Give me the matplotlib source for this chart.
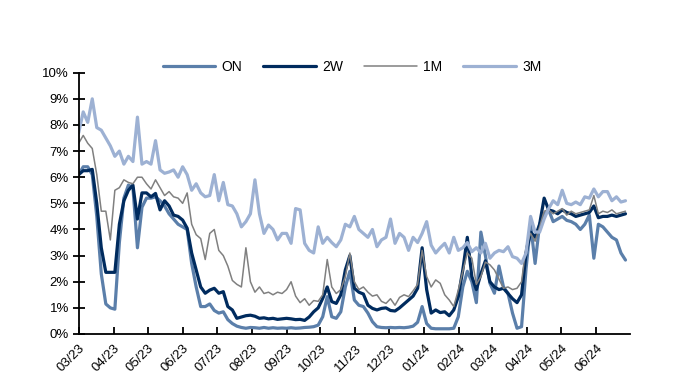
import matplotlib
matplotlib.use("Agg")
import matplotlib.pyplot as plt
import matplotlib.dates as mdates
import pandas as pd

plt.rcParams['font.family'] = ['Liberation Sans', 'DejaVu Sans']

# dates every 4 days from 2023-03-01
dates = pd.date_range('2023-03-01', periods=122, freq='4D')

on_rate = [6.1, 6.4, 6.4, 6.1, 4.5, 2.3, 1.15, 1.0, 0.95, 3.5,
           5.2, 5.7, 5.6, 3.3, 4.85, 5.2, 5.2, 5.25, 5.1, 4.9,
           4.6, 4.4, 4.2, 4.1, 4.0, 2.7, 1.8, 1.05, 1.05, 1.15,
           0.9, 0.8, 0.85, 0.55, 0.4, 0.3, 0.25, 0.22, 0.25, 0.24,
           0.22, 0.25, 0.22, 0.24, 0.22, 0.23, 0.22, 0.24, 0.22, 0.23,
           0.25, 0.26, 0.28, 0.34, 0.66, 1.43, 0.66, 0.6, 0.85, 1.8,
           2.4, 1.3, 1.1, 1.05, 0.8, 0.47, 0.28, 0.25, 0.24, 0.25,
           0.24, 0.25, 0.24, 0.26, 0.3, 0.45, 1.05, 0.4, 0.22, 0.2,
           0.2, 0.2, 0.2, 0.22, 0.66, 1.8, 2.4, 2.0, 1.2, 3.9,
           3.0, 1.94, 1.56, 2.6, 1.8, 1.56, 0.8, 0.22, 0.28, 2.5,
           4.2, 2.7, 4.2, 4.6, 4.75, 4.3, 4.4, 4.5, 4.35, 4.3,
           4.2, 4.0, 4.2, 4.55, 2.9, 4.2, 4.1, 3.9, 3.7, 3.6,
           3.1, 2.83]

w2_rate = [6.1, 6.25, 6.25, 6.3, 5.0, 3.3, 2.36, 2.36, 2.36, 4.2,
           5.1, 5.5, 5.7, 4.4, 5.4, 5.4, 5.25, 5.38, 4.75, 5.1,
           4.9, 4.55, 4.5, 4.36, 4.05, 3.1, 2.45, 1.8, 1.56, 1.68,
           1.75, 1.56, 1.62, 1.05, 0.92, 0.6, 0.65, 0.7, 0.72, 0.68,
           0.6, 0.62, 0.58, 0.6, 0.56, 0.58, 0.6, 0.58, 0.55, 0.56,
           0.52, 0.65, 0.85, 1.0, 1.36, 1.8, 1.24, 1.17, 1.5, 2.45,
           3.0, 1.75, 1.6, 1.53, 1.1, 0.98, 0.92, 0.98, 1.0, 0.9,
           0.88, 1.0, 1.15, 1.3, 1.45, 1.75, 3.3, 1.7, 0.8, 0.92,
           0.82, 0.85, 0.7, 0.92, 1.43, 2.45, 3.7, 2.2, 1.7, 2.3,
           2.8, 2.0, 1.8, 1.7, 1.75, 1.55, 1.35, 1.2, 1.5, 3.1,
           3.9, 3.7, 4.2, 5.2, 4.75, 4.7, 4.6, 4.75, 4.65, 4.6,
           4.5, 4.55, 4.6, 4.65, 4.9, 4.45, 4.5, 4.5, 4.55, 4.5,
           4.55, 4.6]

m1_rate = [7.3, 7.6, 7.3, 7.1, 6.1, 4.7, 4.7, 3.6, 5.5, 5.6,
           5.9, 5.8, 5.75, 6.0, 6.0, 5.75, 5.55, 5.9, 5.6, 5.3,
           5.45, 5.25, 5.2, 5.0, 5.4, 4.2, 3.8, 3.65, 2.85, 3.85,
           4.0, 3.2, 3.0, 2.6, 2.05, 1.9, 1.8, 3.3, 2.0, 1.6,
           1.8, 1.55, 1.6, 1.5, 1.6, 1.55, 1.7, 2.0, 1.45, 1.2,
           1.35, 1.1, 1.28, 1.25, 1.5, 2.85, 1.8, 1.55, 1.7, 2.2,
           3.1, 2.0, 1.7, 1.8, 1.6, 1.45, 1.5, 1.25, 1.17, 1.35,
           1.1, 1.4, 1.5, 1.43, 1.65, 1.9, 3.2, 2.2, 1.8, 2.07,
           1.94, 1.5, 1.3, 1.05, 1.68, 2.4, 3.1, 2.9, 1.9, 2.2,
           2.75, 2.65, 2.45, 2.1, 1.75, 1.8, 1.7, 1.75, 2.0, 3.35,
           3.85, 3.55, 4.1, 4.7, 4.75, 4.6, 4.7, 4.8, 4.55, 4.7,
           4.6, 4.65, 4.7, 4.75, 5.3, 4.6, 4.7, 4.65, 4.75, 4.6,
           4.65, 4.7]

m3_rate = [7.7, 8.5, 8.1, 9.0, 7.9, 7.8, 7.5, 7.2, 6.8, 7.0,
           6.5, 6.8, 6.6, 8.3, 6.5, 6.6, 6.5, 7.4, 6.28, 6.15,
           6.2, 6.28, 6.0, 6.4, 6.1, 5.5, 5.75, 5.4, 5.25, 5.3,
           6.1, 5.1, 5.8, 4.95, 4.9, 4.6, 4.1, 4.3, 4.6, 5.9,
           4.6, 3.85, 4.17, 4.0, 3.6, 3.85, 3.85, 3.47, 4.8, 4.75,
           3.47, 3.2, 3.1, 4.1, 3.47, 3.7, 3.5, 3.34, 3.6, 4.2,
           4.1, 4.5, 4.0, 3.85, 3.7, 4.0, 3.34, 3.6, 3.7, 4.4,
           3.47, 3.85, 3.7, 3.2, 3.7, 3.5, 3.85, 4.3, 3.4, 3.1,
           3.3, 3.47, 3.1, 3.7, 3.2, 3.3, 3.5, 3.15, 3.3, 3.1,
           3.47, 2.9, 3.1, 3.2, 3.15, 3.34, 2.96, 2.9, 2.7, 3.1,
           4.5, 3.9, 3.9, 4.4, 4.8, 5.1, 4.95, 5.5, 5.0, 4.95,
           5.05, 4.95, 5.25, 5.2, 5.55, 5.25, 5.45, 5.45, 5.1, 5.25,
           5.05, 5.1]

series_names = ['ON', '2W', '1M', '3M']
series_values = [on_rate, w2_rate, m1_rate, m3_rate]
series_colors = ['#5B7FAA', '#002B5E', '#808080', '#9DB1D3']
series_widths = [2.3, 2.3, 1.1, 2.3]

fig = plt.figure(figsize=(6.93, 3.88), dpi=100)
ax = fig.add_axes([78.7 / 693, 1 - 334 / 388, (630 - 78.7) / 693, (334 - 72.7) / 388])

for name, vals, col, lw in zip(series_names, series_values, series_colors, series_widths):
    ax.plot(dates, [v / 100 for v in vals], color=col, lw=lw, label=name,
            solid_joinstyle='round', solid_capstyle='round')

ax.set_xlim(pd.Timestamp('2023-03-01'), pd.Timestamp('2024-07-01'))
ax.set_ylim(0, 0.10)
ax.set_yticks([i / 100 for i in range(11)])
ax.set_yticklabels([f'{i}%' for i in range(11)])
ticks = pd.date_range('2023-03-01', '2024-06-01', freq='MS')
ax.set_xticks(ticks)
ax.set_xticklabels([t.strftime('%m/%y') for t in ticks], rotation=45,
                   ha='right', rotation_mode='anchor')

for s in ['top', 'right']:
    ax.spines[s].set_visible(False)
for s in ['left', 'bottom']:
    ax.spines[s].set_linewidth(1.3)
    ax.spines[s].set_color('black')

ax.tick_params(axis='y', direction='inout', length=8, width=1.3, labelsize=9.5, pad=3)
ax.tick_params(axis='x', direction='in', length=5, width=1.3, labelsize=9.5, pad=6)

fig.legend(loc='center', bbox_to_anchor=(352 / 693, 1 - 67 / 388), ncol=4,
           frameon=False, fontsize=10, handlelength=3.8, columnspacing=1.5,
           handletextpad=0.45)

fig.savefig('out.png', dpi=100)
